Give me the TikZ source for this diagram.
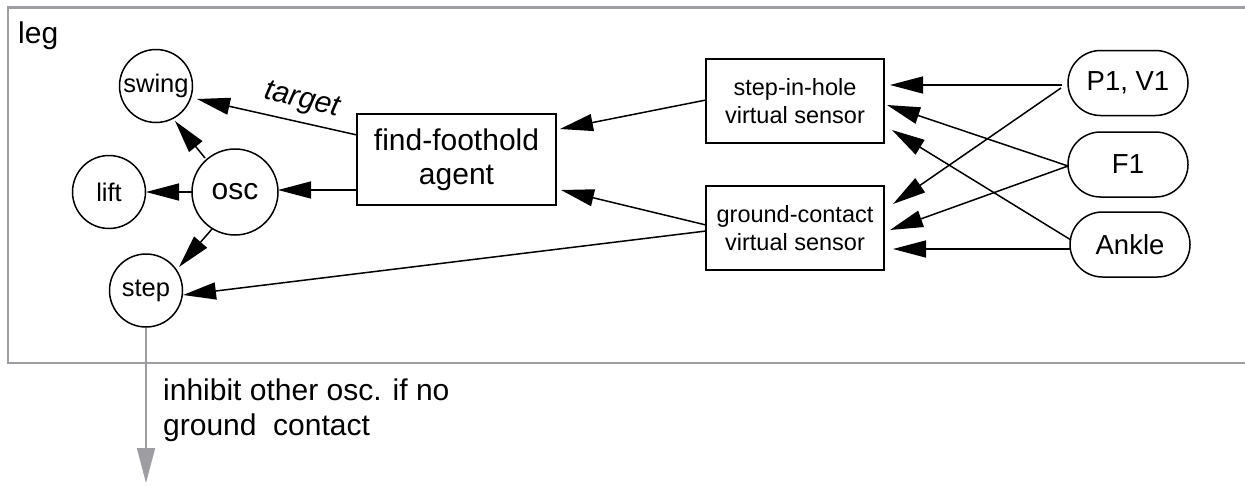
\documentclass[tikz,border=0pt]{standalone}
\usepackage{fontspec}
\setmainfont{Liberation Sans}
\usetikzlibrary{arrows.meta,calc}
\definecolor{framegray}{RGB}{158,158,162}

\begin{document}
\begin{tikzpicture}[x=1pt,y=-1pt,
  conn/.style={line width=1.5pt, -{Triangle[length=33pt,width=17pt]}},
  inhibit/.style={framegray, line width=1.8pt, -{Triangle[length=35pt,width=18pt]}},
  statenode/.style={circle, draw, line width=1.5pt, inner sep=0pt, minimum size=73pt,
    font=\fontsize{25.5}{28}\selectfont},
  boxnode/.style={draw, line width=1.5pt, inner sep=0pt, align=center},
  sensorbox/.style={boxnode, minimum width=178pt, minimum height=84pt,
    font=\fontsize{23.5}{27.7}\selectfont},
  sensornode/.style={draw, line width=1.5pt, rounded corners=32.5pt, minimum width=120pt,
    minimum height=65pt, inner sep=0pt, font=\fontsize{27.5}{30}\selectfont}
]
\useasboundingbox (0,0) rectangle (1245,485);

% leg frame (open on the right)
\draw[framegray, line width=2.2pt] (1245,7.5) -- (8,7.5) -- (8,363) -- (1245,363);
\node[anchor=base west, inner sep=0pt, font=\fontsize{30}{34}\selectfont] (leg) at (18,43) {leg};

% behaviour nodes
\node[statenode] (swing) at (156,86) {swing};
\node[statenode] (lift) at (109,192) {lift};
\node[statenode, minimum size=86pt, font=\fontsize{30}{34}\selectfont] (osc) at (235,192) {osc};
\node[statenode] (step) at (146,290.5) {step};

% agent and virtual sensors
\node[boxnode, minimum width=199pt, minimum height=91pt, font=\fontsize{30}{34}\selectfont]
  (ff) at (456.5,159.5) {find-foothold\\agent};
\node[sensorbox] (sih) at (795,101) {step-in-hole\\virtual sensor};
\node[sensorbox] (gc) at (795,228) {ground-contact\\virtual sensor};

% raw sensors
\node[sensornode] (P) at (1128,83) {P1, V1};
\node[sensornode] (F) at (1128,164.5) {F1};
\node[sensornode] (A) at (1130,244.5) {Ankle};

% sensor inputs
\draw[conn] ($(P)+(-66,2)$) -- ($(sih)+(95,-16)$);
\draw[conn] ($(P)+(-67,5)$) -- ($(gc)+(98,-24)$);
\draw[conn] ($(F)+(-60,1.5)$) -- ($(sih)+(92,4)$);
\draw[conn] ($(F)+(-60,1.5)$) -- ($(gc)+(95,2)$);
\draw[conn] ($(A)+(-59,-4.5)$) -- ($(sih)+(97,29)$);
\draw[conn] ($(A)+(-59,4.5)$) -- ($(gc)+(98,21)$);

% virtual sensors to agent and step
\draw[conn] ($(sih)+(-89,-1)$) -- ($(ff)+(103.5,-30.5)$);
\draw[conn] ($(gc)+(-89,-3)$) -- ($(ff)+(104.5,30.5)$);
\draw[conn] ($(gc)+(-89,3)$) -- ($(step)+(37,4.5)$);

% agent outputs
\draw[conn] ($(ff)+(-99.5,-24.5)$) -- ($(swing)+(41,13)$);
\node[rotate=-12.7, inner sep=0pt, font=\fontsize{30}{34}\selectfont\itshape] (tgt) at (302,101) {target};
\draw[conn] ($(ff)+(-99.5,30.5)$) -- ($(osc)+(43,-2)$);

% oscillator outputs
\draw[conn] ($(osc)+(-30,-34)$) -- ($(swing)+(19,35)$);
\draw[conn] ($(osc)+(-43,0)$) -- ($(lift)+(37,0)$);
\draw[conn] ($(osc)+(-23,37)$) -- ($(step)+(33,-23.5)$);

% inhibition leaving the leg
\coordinate (out) at (146,483);
\draw[inhibit] (step.south) -- (out);
\node[anchor=north west, inner sep=0pt, align=left, font=\fontsize{30}{35}\selectfont]
  (note) at (163,378.5) {inhibit other osc. if no\\ground~ contact};
\end{tikzpicture}
\end{document}
